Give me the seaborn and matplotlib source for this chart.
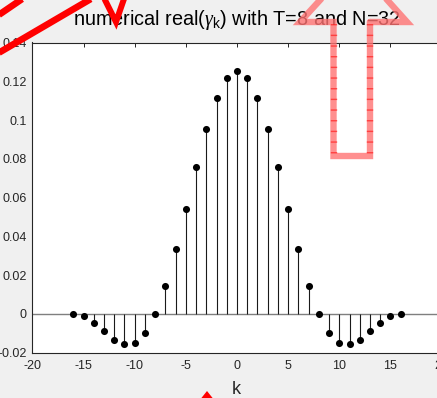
import numpy as np
import pandas as pd
import matplotlib
matplotlib.use("Agg")
import matplotlib.pyplot as plt
from matplotlib.lines import Line2D
from matplotlib.patches import Polygon
import seaborn as sns

# ---- data ----
k_values = list(range(-16, 17))
half_vals = [0.0, -0.0012, -0.0046, -0.0090, -0.0132, -0.0156, -0.0150, -0.0100,
             0.0, 0.0145, 0.0334, 0.0541, 0.0756, 0.0953, 0.1112, 0.1217]
gamma_real = half_vals + [0.1252] + half_vals[::-1]
xtick_values = [-20, -15, -10, -5, 0, 5, 10, 15, 20]
xtick_labels = ['-20', '-15', '-10', '-5', '0', '5', '10', '15', '20']
ytick_values = [-0.02, 0.0, 0.02, 0.04, 0.06, 0.08, 0.10, 0.12, 0.14]
ytick_labels = ['-0.02', '0', '0.02', '0.04', '0.06', '0.08', '0.1', '0.12', '0.14']
title_text = r'numerical real($\gamma_{\mathrm{k}}$) with T=8 and N=32'
xlabel_text = 'k'

df = pd.DataFrame({'k': k_values, 'gamma': gamma_real})

sns.set_theme(style='white')
plt.rcParams['font.family'] = ['Liberation Sans', 'DejaVu Sans']
plt.rcParams['mathtext.fontset'] = 'custom'
plt.rcParams['mathtext.rm'] = 'Liberation Sans'
plt.rcParams['mathtext.it'] = 'Liberation Serif:italic'
plt.rcParams['axes.unicode_minus'] = False

W, H = 437, 398
fig = plt.figure(figsize=(W / 100, H / 100), dpi=100, facecolor='#f0f0f0')
ax_left, ax_right, ax_top, ax_bottom = 32.4, 441.6, 42.5, 352.7
ax = fig.add_axes([ax_left / W, 1 - ax_bottom / H, (ax_right - ax_left) / W, (ax_bottom - ax_top) / H])
ax.set_facecolor('white')

# baseline and stems
ax.axhline(0, color='#7f7f7f', lw=1.0, zorder=1)
ax.vlines(df['k'], 0, df['gamma'], color='#1a1a1a', lw=0.8, zorder=2)
sns.scatterplot(data=df, x='k', y='gamma', ax=ax, color='black', s=26,
                edgecolor='black', linewidth=0, zorder=3, legend=False)

ax.set_xlim(-20, 20)
ax.set_ylim(-0.02, 0.14)
ax.set_xticks(xtick_values)
ax.set_xticklabels(xtick_labels)
ax.set_yticks(ytick_values)
ax.set_yticklabels(ytick_labels)
ax.tick_params(direction='in', length=3.2, width=0.7, colors='#262626',
               labelsize=9, top=True, right=True)
ax.tick_params(axis='x', pad=5.5)
ax.tick_params(axis='y', pad=4.0)
for s in ax.spines.values():
    s.set_color('#262626')
    s.set_linewidth(0.8)

ax.set_ylabel('')
ax.set_xlabel(xlabel_text, fontsize=13, color='#262626', va='baseline')
ax.xaxis.set_label_coords(0.5 + (236.7 - 237) / (ax_right - ax_left), -(394 - ax_bottom) / (ax_bottom - ax_top))
ax.set_title(title_text, fontsize=14.3, color='black', pad=12.5)

# ---- red annotation overlays (figure pixel coordinates) ----
def fx(x):
    return x / W

def fy(y):
    return 1 - y / H

def add_line(xs, ys, **kw):
    fig.add_artist(Line2D([fx(x) for x in xs], [fy(y) for y in ys],
                          transform=fig.transFigure, **kw))

red = '#ff0000'
add_line([-5, 26], [17.5, -3.7], color=red, lw=4.8, solid_capstyle='butt')
add_line([-5, 95], [55, -3.5], color=red, lw=4.8, solid_capstyle='butt')
add_line([103, 116, 125], [-4, 22, -4], color=red, lw=4.3, solid_joinstyle='miter',
         solid_capstyle='butt')

pink = (1.0, 0.45, 0.45)
arrow_x = [370, 407, 354, 300, 333.5, 333.5, 370, 370]
arrow_y = [22, 22, -37, 22, 22, 156, 156, 22]
add_line(arrow_x, arrow_y, color=pink, lw=4.6, alpha=0.8, solid_joinstyle='miter')
for xs in (333.5, 370):
    add_line([xs, xs], [24, 154], color='#ff2020', lw=4.6, alpha=0.7,
             linestyle=(0, (0.22, 1.45)), dash_capstyle='butt')

fig.add_artist(Polygon([(fx(207), fy(391)), (fx(199), fy(401)), (fx(215), fy(401))],
                       closed=True, transform=fig.transFigure, color=red, lw=0))

fig.savefig('out.png', dpi=100, facecolor=fig.get_facecolor())
